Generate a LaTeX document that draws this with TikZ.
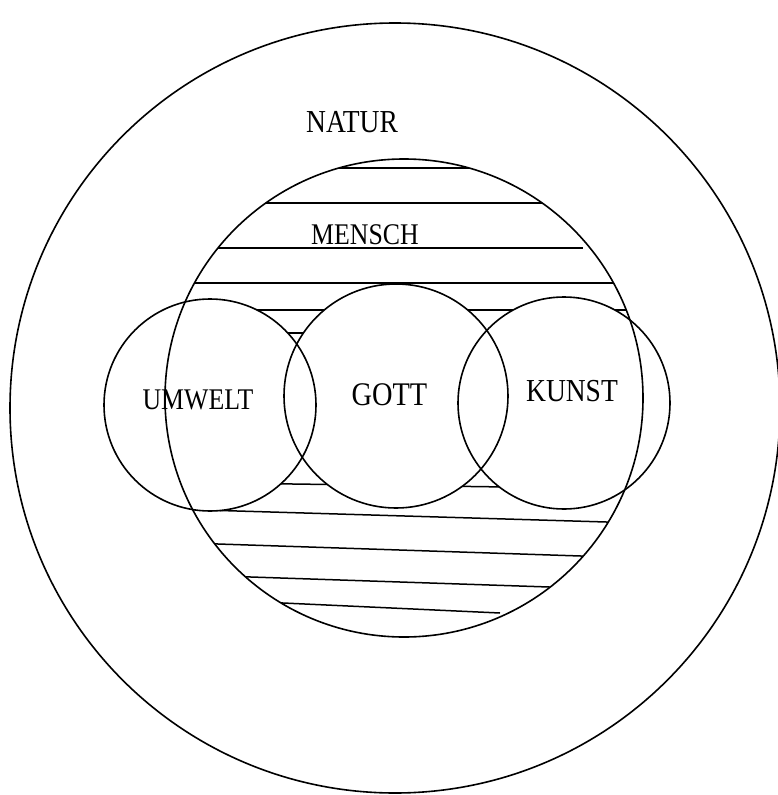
\documentclass[tikz,border=0pt]{standalone}
\usepackage{fontspec}
\newfontfamily\lblfont[FakeStretch=0.86]{Liberation Serif}
\begin{document}
\begin{tikzpicture}[x=1pt,y=-1pt,
  ring/.style={line width=1.6pt},
  hatch/.style={line width=1.5pt},
  lbl/.style={inner sep=0pt}]
\useasboundingbox (0,0) rectangle (777,795);
\coordinate (cN) at (395,408);
\coordinate (cM) at (404,398);
\coordinate (cU) at (210,405);
\coordinate (cG) at (396,396);
\coordinate (cK) at (564,403);
% hatching inside MENSCH
\begin{scope}
  \clip (cM) circle[radius=239pt];
  \draw[hatch] (330,168) -- (480,168);
  \draw[hatch] (260,203) -- (550,203);
  \draw[hatch] (200,248) -- (583,248);
  \draw[hatch] (180,283) -- (630,283);
  \draw[hatch] (160,310) -- (650,310);
  \draw[hatch] (160,333) -- (650,333);
  \draw[hatch] (150,482) -- (650,489);
  \draw[hatch] (180,509.3) -- (650,523.3);
  \draw[hatch] (200,543.4) -- (620,557.3);
  \draw[hatch] (230,576.3) -- (570,587.7);
  \draw[hatch] (270,602.4) -- (500,613);
\end{scope}
% blank the small circles
\fill[white] (cU) circle[radius=106pt];
\fill[white] (cG) circle[radius=112pt];
\fill[white] (cK) circle[radius=106pt];
% circles
\draw[ring] (cN) circle[radius=385pt];
\draw[ring] (cM) circle[radius=239pt];
\draw[ring] (cU) circle[radius=106pt];
\draw[ring] (cG) circle[radius=112pt];
\draw[ring] (cK) circle[radius=106pt];
% labels
\node[lbl,font=\lblfont\fontsize{32}{32}\selectfont] (natur) at (352,122.5) {NATUR};
\node[lbl,font=\lblfont\fontsize{30}{30}\selectfont] (mensch) at (365,235) {MENSCH};
\node[lbl,font=\lblfont\fontsize{30}{30}\selectfont] (umwelt) at (198,400) {UMWELT};
\node[lbl,font=\lblfont\fontsize{33}{33}\selectfont] (gott) at (389.5,394.5) {GOTT};
\node[lbl,font=\lblfont\fontsize{32}{32}\selectfont] (kunst) at (572,391) {KUNST};
\end{tikzpicture}
\end{document}
